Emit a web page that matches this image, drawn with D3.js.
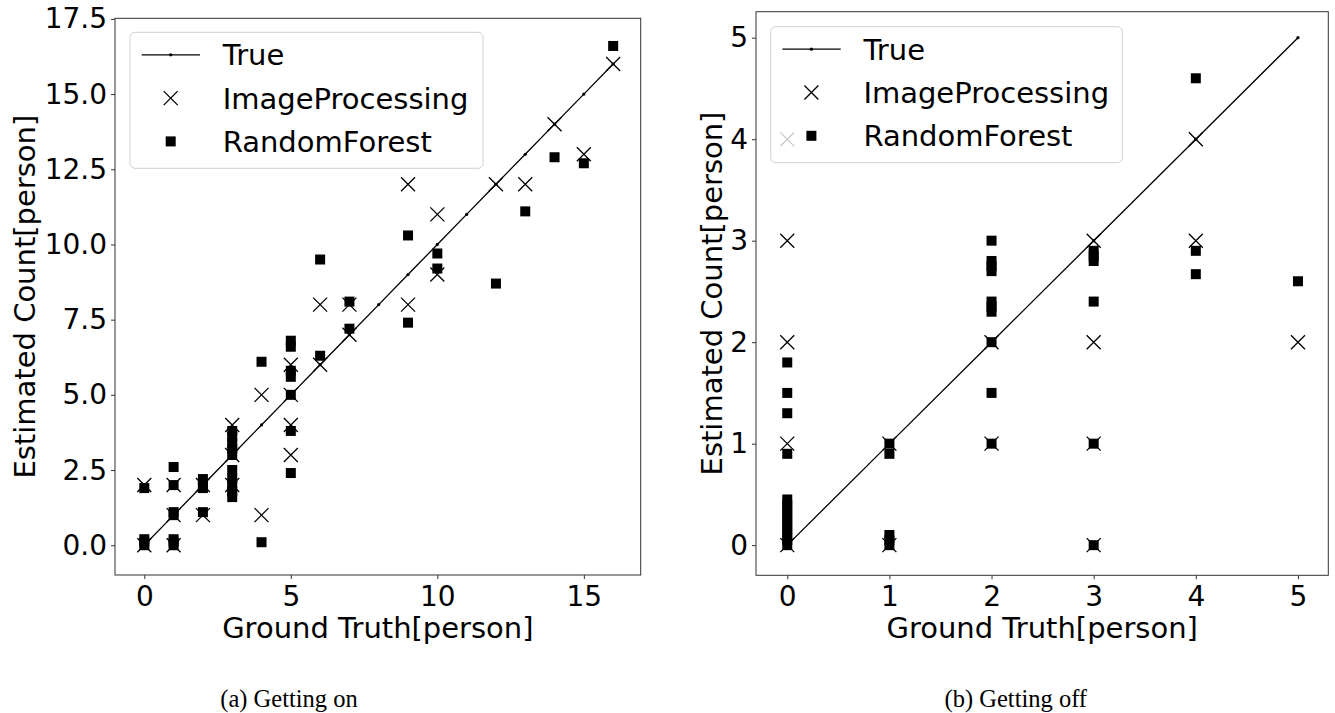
<!DOCTYPE html>
<html>
<head>
<meta charset="utf-8">
<script src="https://cdn.jsdelivr.net/npm/d3@7"></script>
<style>
  body { margin: 0; background: #fff; }
  svg { display: block; }
  text { fill: #000; }
</style>
</head>
<body>
<script>
// (a) Getting on
const onTrueX = [0,1,2,3,4,5,6,7,8,9,10,11,12,13,14,15,16];
const onTrueY = [0,1,2,3,4,5,6,7,8,9,10,11,12,13,14,15,16];
const onIpX = [0,0, 1,1,1, 2,2, 3,3,3, 4,4, 5,5,5,5, 6,6, 7,7, 9,9, 10,10, 12, 13, 14, 15, 16];
const onIpY = [0,2, 0,1,2, 1,2, 2,3,4, 1,5, 3,4,5,6, 6,8, 7,8, 8,12, 9,11, 12, 12, 14, 13, 16];
const onRfX = [0,0,0,0, 1,1,1,1,1,1,1, 2,2,2,2, 3,3,3,3,3,3,3,3,3,3, 4,4, 5,5,5,5,5,5,5, 6,6, 7,7, 9,9, 10,10, 12, 13, 14, 15, 16];
const onRfY = [0,0.1,0.2,1.9, 0,0.1,0.2,1.0,1.1,2.0,2.6, 1.1,1.9,2.0,2.2, 1.6,1.8,2.0,2.2,2.5,3.0,3.2,3.4,3.6,3.8, 0.1,6.1, 2.4,3.8,5.0,5.6,5.8,6.6,6.8, 6.3,9.5, 7.2,8.1, 7.4,10.3, 9.2,9.7, 8.7, 11.1, 12.9, 12.7, 16.6];
const onXTicks = [0,5,10,15];
const onYTicks = [0,2.5,5,7.5,10,12.5,15,17.5];

// (b) Getting off
const offTrueX = [0,1,2,3,4,5];
const offTrueY = [0,1,2,3,4,5];
const offIpX = [0,0,0,0,0, 1,1, 2,2, 3,3,3,3, 4,4, 5];
const offIpY = [0,1,2,3,4, 0,1, 1,2, 0,1,2,3, 3,4, 2];
const offRfX = [0,0,0,0,0,0,0,0,0,0,0,0,0,0, 1,1,1,1,1, 2,2,2,2,2,2,2,2,2,2, 3,3,3,3,3,3, 4,4,4, 5];
const offRfY = [0,0.05,0.1,0.15,0.2,0.25,0.3,0.35,0.4,0.45,0.9,1.3,1.5,1.8, 0,0.05,0.1,0.9,1.0, 1.0,1.5,2.0,2.3,2.35,2.4,2.7,2.75,2.8,3.0, 0,1.0,2.4,2.8,2.85,2.9, 2.67,2.9,4.6, 2.6];
const offXTicks = [0,1,2,3,4,5];
const offYTicks = [0,1,2,3,4,5];

const legendNames = ["True", "ImageProcessing", "RandomForest"];
const xLabel = "Ground Truth[person]";
const yLabel = "Estimated Count[person]";

const W = 1335, H = 713;
const FONT = "'DejaVu Sans', sans-serif";

const svg = d3.select("body").append("svg")
  .attr("width", W).attr("height", H);

const zip = (xs, ys) => xs.map((x, i) => [x, ys[i]]);

// panel layout (pixels) + data
const panels = [
  {
    box: {x0: 115, x1: 640.7, y0: 18.3, y1: 575},
    xdom: [-1.0, 16.94], ydom: [-0.99, 17.52],
    xticks: onXTicks, yticks: onYTicks, yfmt: d3.format(".1f"),
    trueLine: zip(onTrueX, onTrueY), ip: zip(onIpX, onIpY), rf: zip(onRfX, onRfY),
    legend: {x: 130, y: 32.3, w: 353, h: 136},
    yLabelX: 35, caption: "(a) Getting on", captionX: 289
  },
  {
    box: {x0: 756, x1: 1328.3, y0: 11.7, y1: 575.3},
    xdom: [-0.306, 5.297], ydom: [-0.297, 5.256],
    xticks: offXTicks, yticks: offYTicks, yfmt: d3.format("d"),
    trueLine: zip(offTrueX, offTrueY), ip: zip(offIpX, offIpY), rf: zip(offRfX, offRfY),
    legend: {x: 770.7, y: 26.7, w: 351.6, h: 136},
    yLabelX: 721.7, caption: "(b) Getting off", captionX: 1015.8
  }
];

const XS = 7;    // half size of x marker
const SQ = 10;   // square marker size

function xMark(sel, color) {
  sel.append("path")
    .attr("d", `M${-XS},${-XS}L${XS},${XS}M${-XS},${XS}L${XS},${-XS}`)
    .attr("stroke", color).attr("stroke-width", 1.3).attr("fill", "none");
}

panels.forEach(p => {
  const b = p.box;
  const x = d3.scaleLinear().domain(p.xdom).range([b.x0, b.x1]);
  const y = d3.scaleLinear().domain(p.ydom).range([b.y1, b.y0]);
  const g = svg.append("g");

  // True line
  g.append("path")
    .datum(p.trueLine)
    .attr("d", d3.line().x(d => x(d[0])).y(d => y(d[1])))
    .attr("fill", "none").attr("stroke", "#000").attr("stroke-width", 1.3);
  g.selectAll(".tdot").data(p.trueLine).enter().append("circle")
    .attr("cx", d => x(d[0])).attr("cy", d => y(d[1])).attr("r", 1.6).attr("fill", "#000");

  // ImageProcessing (x)
  g.selectAll(".ip").data(p.ip).enter().append("g")
    .attr("transform", d => `translate(${x(d[0])},${y(d[1])})`)
    .call(xMark, "#000");

  // RandomForest (square)
  g.selectAll(".rf").data(p.rf).enter().append("rect")
    .attr("x", d => x(d[0]) - SQ / 2).attr("y", d => y(d[1]) - SQ / 2)
    .attr("width", SQ).attr("height", SQ).attr("fill", "#000");

  // axes frame
  g.append("rect")
    .attr("x", b.x0).attr("y", b.y0)
    .attr("width", b.x1 - b.x0).attr("height", b.y1 - b.y0)
    .attr("fill", "none").attr("stroke", "#333").attr("stroke-width", 1);

  // x ticks
  const xa = g.append("g").attr("transform", `translate(0,${b.y1})`)
    .call(d3.axisBottom(x).tickValues(p.xticks).tickSize(4).tickPadding(7).tickFormat(d3.format("d")));
  xa.select(".domain").remove();
  xa.selectAll("line").attr("stroke", "#333");
  xa.selectAll("text").attr("font-family", FONT).attr("font-size", 28).attr("fill", "#000");

  // y ticks
  const ya = g.append("g").attr("transform", `translate(${b.x0},0)`)
    .call(d3.axisLeft(y).tickValues(p.yticks).tickSize(4).tickPadding(4).tickFormat(p.yfmt));
  ya.select(".domain").remove();
  ya.selectAll("line").attr("stroke", "#333");
  ya.selectAll("text").attr("font-family", FONT).attr("font-size", 28).attr("fill", "#000");

  // axis labels
  g.append("text")
    .attr("x", (b.x0 + b.x1) / 2).attr("y", 638)
    .attr("text-anchor", "middle")
    .attr("font-family", FONT).attr("font-size", 29)
    .text(xLabel);
  g.append("text")
    .attr("transform", `translate(${p.yLabelX},${(b.y0 + b.y1) / 2}) rotate(-90)`)
    .attr("text-anchor", "middle")
    .attr("font-family", FONT).attr("font-size", 29)
    .text(yLabel);

  // legend
  const L = p.legend;
  const lg = g.append("g").attr("transform", `translate(${L.x},${L.y})`);
  lg.append("rect")
    .attr("width", L.w).attr("height", L.h).attr("rx", 5)
    .attr("fill", "#fff").attr("fill-opacity", 0.8)
    .attr("stroke", "#d0d0d0").attr("stroke-width", 1);
  legendNames.forEach((name, i) => {
    const base = 33 + i * 43.3;
    const cy = base - 10.5;
    if (i === 0) {
      lg.append("line").attr("x1", 11.7).attr("x2", 70).attr("y1", cy).attr("y2", cy)
        .attr("stroke", "#000").attr("stroke-width", 1.3);
      lg.append("circle").attr("cx", 40.7).attr("cy", cy).attr("r", 1.6).attr("fill", "#000");
    } else if (i === 1) {
      lg.append("g").attr("transform", `translate(40.7,${cy})`).call(xMark, "#000");
    } else {
      lg.append("rect").attr("x", 40.7 - SQ / 2).attr("y", cy - SQ / 2)
        .attr("width", SQ).attr("height", SQ).attr("fill", "#000");
    }
    lg.append("text")
      .attr("x", 92.7).attr("y", base)
      .attr("font-family", FONT).attr("font-size", 29)
      .text(name);
  });

  // caption
  svg.append("text")
    .attr("x", p.captionX).attr("y", 706.7)
    .attr("text-anchor", "middle")
    .attr("font-family", "'Liberation Serif', 'Times New Roman', serif")
    .attr("font-size", 24.5)
    .text(p.caption);
});
</script>
</body>
</html>
